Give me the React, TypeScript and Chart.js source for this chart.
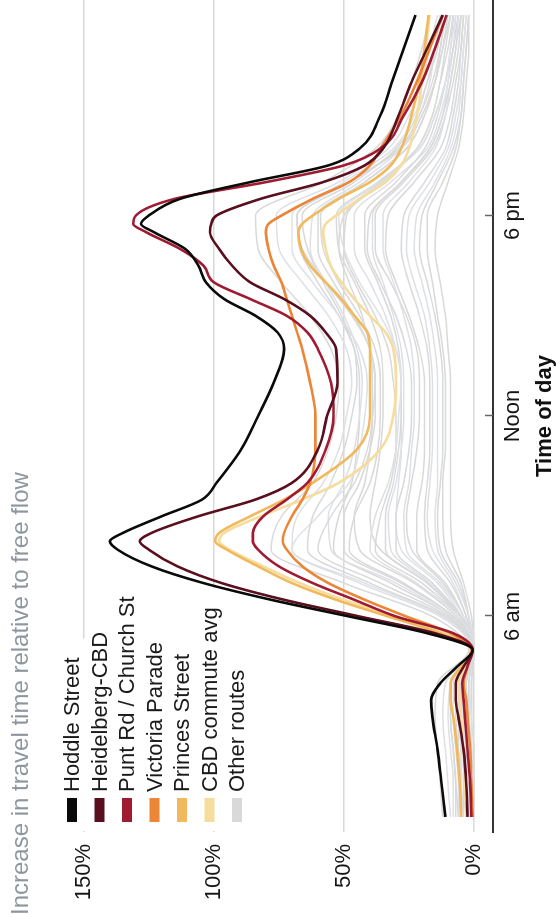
import React, { useEffect, useRef } from "react";
import { Chart, registerables } from "chart.js";

Chart.register(...registerables);

// ---------- data ----------
const hours = [0, 1, 2, 3, 3.5, 4, 4.5, 5, 5.5, 6, 6.5, 7, 7.5, 8, 8.25, 8.5, 9, 9.5, 10, 11, 12, 13, 14, 14.5, 15, 15.5, 16, 16.5, 17, 17.5, 17.75, 18, 18.5, 19, 19.5, 20, 21, 22, 23, 24];
const hourlyHours = [0, 1, 2, 3, 4, 5, 6, 7, 8, 9, 10, 11, 12, 13, 14, 15, 16, 17, 18, 19, 20, 21, 22, 23, 24];

const hoddleStreet = [11, 12.5, 14, 16, 16.5, 13, 6.5, 0.5, 18, 48, 78, 104, 124, 137, 140, 135, 120, 104.5, 99, 89.5, 83, 77, 73, 75.5, 84, 96, 103, 106, 111, 123, 128, 125, 113, 86, 56, 44, 36, 31.5, 27, 22.5];
const heidelbergCBD = [2.5, 3, 4, 6, 7, 7, 4, 0.5, 15, 44, 73, 97, 114, 125, 128.5, 124, 106, 84, 70, 60, 56.5, 52.5, 53, 57, 63, 73, 86, 93, 98, 101.5, 101, 99, 82, 58, 42, 35, 29, 24, 18, 12];
const puntRdChurchSt = [1, 1.5, 2.5, 3.5, 4, 4.5, 2.5, 0.5, 8, 30, 46, 62, 75, 83, 85, 85, 81, 72, 64, 57, 54, 55, 60, 64, 72, 86, 100, 104, 113, 126, 131, 130, 115, 80, 50, 36, 27, 20, 15, 10.5];
const victoriaParade = [0.5, 1, 1.5, 2.5, 3, 4, 2.5, 1, 9, 26, 42, 56, 66, 72, 73.5, 73, 70, 66, 63, 61, 61, 63, 66, 68, 70, 72, 74, 77, 79, 80, 79, 74, 62, 48, 40, 36, 28, 22, 17, 12];
const princesStreet = [5, 5.5, 6.5, 8, 9, 9, 5, 1, 13, 33, 53, 70, 83, 95, 99.5, 98, 86, 73, 62, 45, 40, 40, 40, 41, 46, 51, 57, 63, 66.5, 67.5, 66, 62, 52, 40, 32, 28, 24, 21, 19, 17.5];
const cbdCommuteAvg = [3, 3.5, 4, 5, 5.5, 6, 3.5, 1, 11, 30, 50, 67, 81, 94, 98, 96, 82, 66, 52, 36, 31, 30, 31, 34, 40, 46, 51, 55, 57, 58, 57, 53, 44, 34, 28, 25, 22, 20, 18.5, 17];

const otherRoutes = [
  [12, 13, 14, 15, 14, 2, 16, 50, 78, 74, 62, 56, 53, 52, 55, 63, 74, 83, 84, 58, 38, 29, 24, 20, 17],
  [9, 10, 11, 12, 11, 1, 13, 44, 70, 68, 58, 52, 49, 47, 49, 56, 66, 75, 76, 52, 33, 25, 20, 17, 14],
  [6, 7, 8, 9, 9, 1, 11, 40, 64, 62, 55, 50, 47, 45, 46, 51, 58, 64, 66, 46, 30, 22, 18, 14, 12],
  [4, 5, 6, 7, 7, 1, 10, 36, 60, 55, 46, 41, 39, 38, 40, 47, 57, 66, 68, 48, 29, 21, 16, 13, 11],
  [8, 8, 9, 10, 9, 1, 9, 30, 55, 56, 50, 46, 44, 43, 45, 50, 57, 63, 62, 44, 28, 21, 17, 15, 13],
  [3, 3, 4, 5, 6, 1, 8, 27, 48, 46, 40, 37, 36, 36, 38, 44, 52, 58, 59, 42, 26, 19, 15, 12, 10],
  [5, 5, 6, 6, 6, 0, 7, 23, 44, 46, 42, 40, 39, 39, 40, 43, 48, 52, 50, 36, 22, 16, 13, 11, 9],
  [2, 2, 3, 4, 4, 0, 6, 22, 40, 38, 33, 30, 29, 28, 30, 36, 44, 50, 52, 36, 21, 15, 11, 9, 7],
  [4, 4, 4, 5, 5, 0, 5, 18, 34, 34, 31, 29, 28, 28, 29, 32, 37, 42, 42, 30, 19, 14, 11, 9, 8],
  [1, 1, 2, 3, 3, 0, 5, 16, 30, 30, 27, 25, 24, 24, 26, 30, 36, 41, 40, 28, 17, 12, 9, 7, 5],
  [3, 3, 3, 4, 4, 0, 4, 13, 26, 27, 25, 24, 23, 23, 24, 27, 31, 35, 35, 25, 15, 11, 9, 7, 6],
  [1, 1, 1, 2, 2, 0, 4, 11, 22, 22, 20, 19, 19, 19, 21, 25, 30, 34, 33, 23, 13, 9, 7, 5, 4],
  [2, 2, 2, 3, 3, 0, 3, 9, 18, 19, 18, 17, 17, 17, 18, 21, 25, 28, 27, 19, 11, 8, 6, 5, 4],
  [0, 1, 1, 1, 2, 0, 2, 7, 14, 15, 14, 14, 14, 14, 15, 17, 20, 23, 22, 15, 9, 6, 5, 4, 3],
  [1, 1, 1, 2, 2, 0, 2, 5, 11, 12, 12, 11, 11, 11, 12, 14, 16, 18, 18, 12, 7, 5, 4, 3, 2],
  [0, 0, 1, 1, 1, 0, 1, 4, 8, 9, 9, 9, 9, 9, 10, 11, 13, 15, 14, 10, 6, 4, 3, 2, 2],
  [6, 6, 7, 8, 8, 1, 12, 42, 70, 60, 48, 44, 42, 41, 44, 52, 62, 70, 70, 50, 31, 23, 18, 15, 13],
  [2, 3, 3, 4, 5, 0, 9, 32, 54, 52, 47, 45, 44, 44, 46, 52, 60, 67, 68, 48, 28, 20, 15, 12, 9],
  [1, 1, 2, 2, 3, 0, 6, 18, 36, 40, 38, 36, 35, 35, 36, 40, 46, 52, 53, 37, 21, 15, 11, 8, 6],
  [3, 3, 4, 4, 5, 0, 5, 14, 28, 30, 29, 28, 28, 28, 30, 34, 40, 46, 46, 32, 18, 13, 10, 8, 6],
  [2, 2, 3, 3, 4, 0, 4, 12, 24, 26, 24, 22, 21, 21, 22, 26, 32, 38, 38, 27, 16, 11, 8, 6, 5],
  [5, 5, 5, 6, 6, 1, 6, 20, 38, 36, 32, 30, 30, 31, 33, 38, 45, 50, 49, 35, 22, 16, 13, 10, 8],
  [1, 1, 1, 1, 1, 0, 3, 8, 16, 18, 17, 16, 16, 16, 17, 19, 23, 26, 25, 17, 10, 7, 5, 4, 3],
  [7, 7, 8, 9, 9, 1, 8, 28, 50, 50, 44, 40, 38, 38, 40, 46, 54, 60, 60, 42, 26, 19, 15, 13, 11],
  [0, 0, 0, 1, 1, 0, 2, 6, 13, 14, 13, 12, 12, 12, 13, 15, 18, 21, 20, 14, 8, 5, 4, 3, 2],
  [3, 4, 4, 5, 5, 0, 5, 17, 32, 33, 30, 28, 27, 27, 28, 31, 35, 39, 39, 28, 17, 12, 10, 8, 7],
];

const seriesNames = ["Hoddle Street", "Heidelberg-CBD", "Punt Rd / Church St", "Victoria Parade", "Princes Street", "CBD commute avg"];
const seriesValues = [hoddleStreet, heidelbergCBD, puntRdChurchSt, victoriaParade, princesStreet, cbdCommuteAvg];
const seriesColors = ["#0a0a0a", "#5a0f1f", "#9e1b32", "#ec8536", "#f1b85c", "#f6dd9e"];
const otherName = "Other routes";
const otherColor = "#d9d9d9";
const otherColorAlt = "#dde1e6";

const xTickValues = [6, 12, 18];
const xTickLabels = ["6 am", "Noon", "6 pm"];
const yTickValues = [0, 50, 100, 150];

const subtitle = "Increase in travel time relative to free flow";
const xTitle = "Time of day";

const FONT = "'Liberation Sans', Arial, Helvetica, sans-serif";

const LEG_TOP = 72;
const LEG_STEP = 27.5;
const LEG_TEXT_X = 123;

const inwardTicks = {
  id: "inwardTicks",
  afterDatasetsDraw(chart: any) {
    const { ctx, chartArea, scales } = chart;
    ctx.save();
    ctx.strokeStyle = "#666";
    ctx.lineWidth = 1.5;
    xTickValues.forEach((v) => {
      const x = Math.round(scales.x.getPixelForValue(v)) + 0.5;
      ctx.beginPath();
      ctx.moveTo(x, chartArea.bottom - 8);
      ctx.lineTo(x, chartArea.bottom);
      ctx.stroke();
    });
    ctx.restore();
  },
};

const customLegend = {
  id: "customLegend",
  beforeDatasetsDraw(chart: any) {
    const { ctx, chartArea } = chart;
    const names = [...seriesNames, otherName];
    ctx.save();
    ctx.font = `22px ${FONT}`;
    ctx.fillStyle = "#ffffff";
    names.forEach((name, i) => {
      const cy = LEG_TOP + i * LEG_STEP;
      const w = ctx.measureText(name).width;
      ctx.fillRect(chartArea.left + 1, cy - LEG_STEP / 2, LEG_TEXT_X + w + 18 - chartArea.left, LEG_STEP);
    });
    ctx.restore();
  },
  afterDraw(chart: any) {
    const { ctx } = chart;
    const names = [...seriesNames, otherName];
    const colors = [...seriesColors, otherColor];
    const swX = 93;
    const swW = 24;
    const swH = 10;
    ctx.save();
    ctx.font = `22px ${FONT}`;
    ctx.textBaseline = "middle";
    ctx.textAlign = "left";
    names.forEach((name, i) => {
      const cy = LEG_TOP + i * LEG_STEP;
      ctx.fillStyle = colors[i];
      ctx.fillRect(swX, cy - swH / 2, swW, swH);
      ctx.fillStyle = "#1a1a1a";
      ctx.fillText(name, LEG_TEXT_X, cy + 1);
    });
    ctx.restore();
  },
};

export default function App() {
  const canvasRef = useRef<HTMLCanvasElement | null>(null);

  useEffect(() => {
    if (!canvasRef.current) return;
    Chart.defaults.font.family = FONT;

    const highlighted = seriesValues.map((vals, i) => ({
      label: seriesNames[i],
      data: vals.map((v, j) => ({ x: hours[j], y: v })),
      borderColor: seriesColors[i],
      borderWidth: 2.6,
      pointRadius: 0,
      cubicInterpolationMode: "monotone" as const,
      fill: false,
    }));
    const grays = otherRoutes.map((vals, i) => ({
      label: otherName,
      data: vals.map((v, j) => ({ x: hourlyHours[j], y: v })),
      borderColor: i % 3 === 1 ? otherColorAlt : otherColor,
      borderWidth: 1.5,
      pointRadius: 0,
      cubicInterpolationMode: "monotone" as const,
      fill: false,
    }));

    const chart = new Chart(canvasRef.current, {
      type: "line",
      data: { datasets: [...highlighted, ...grays] as any },
      options: {
        animation: false,
        responsive: false,
        maintainAspectRatio: false,
        events: [],
        layout: { padding: 0 },
        plugins: {
          legend: { display: false },
          tooltip: { enabled: false },
          title: {
            display: true,
            text: subtitle,
            align: "start",
            color: "#8d969e",
            font: { size: 24, weight: "normal", lineHeight: 1.2 },
            padding: { top: 7, bottom: 9 },
          },
        },
        scales: {
          x: {
            type: "linear",
            min: -0.45,
            max: 24.45,
            afterBuildTicks: (s: any) => {
              s.ticks = xTickValues.map((v) => ({ value: v }));
            },
            afterFit: (s: any) => {
              s.height = 63;
            },
            ticks: {
              autoSkip: false,
              maxRotation: 0,
              padding: 7,
              color: "#151515",
              font: { size: 22 },
              callback: (v: any) => {
                const i = xTickValues.indexOf(Number(v));
                return i >= 0 ? xTickLabels[i] : "";
              },
            },
            grid: { display: false, drawTicks: false },
            border: { display: true, color: "#333333", width: 2 },
            title: {
              display: true,
              text: xTitle,
              color: "#111111",
              font: { size: 22, weight: "bold", lineHeight: 1 },
              padding: { top: 0, bottom: 0 },
            },
          },
          y: {
            type: "linear",
            min: -7.3,
            max: 165,
            afterBuildTicks: (s: any) => {
              s.ticks = yTickValues.map((v) => ({ value: v }));
            },
            afterFit: (s: any) => {
              s.width = 83;
            },
            ticks: {
              padding: 12,
              color: "#151515",
              font: { size: 22 },
              callback: (v: any) => `${v}%`,
            },
            grid: { color: "#d8d8d8", lineWidth: 1.5, drawTicks: false },
            border: { display: false },
          },
        },
      },
      plugins: [inwardTicks, customLegend],
    });

    return () => chart.destroy();
  }, []);

  return (
    <div style={{ position: "fixed", left: 0, top: 0, width: 556, height: 915, overflow: "hidden", background: "#ffffff" }}>
      <div
        style={{
          position: "absolute",
          left: 0,
          top: 0,
          width: 915,
          height: 556,
          transformOrigin: "0 0",
          transform: "translateY(915px) rotate(-90deg)",
        }}
      >
        <canvas ref={canvasRef} width={915} height={556} style={{ display: "block", width: 915, height: 556 }} />
      </div>
    </div>
  );
}
